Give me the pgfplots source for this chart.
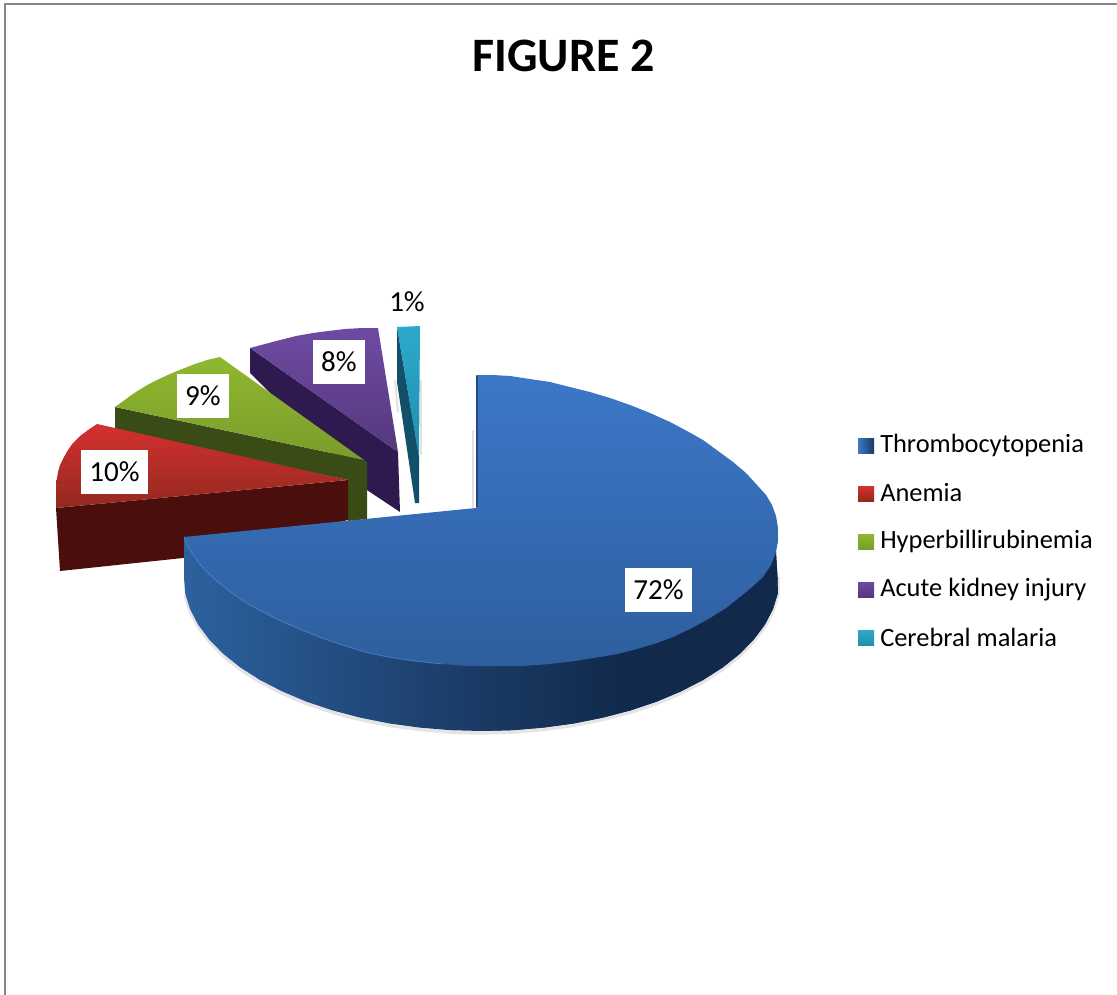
\documentclass[border=0pt]{standalone}
\usepackage{fontspec}
\setmainfont{Carlito}
\usepackage{pgfplots}
\pgfplotsset{compat=1.18}

% Shades of the five slices: top face (light, dark) and side wall
\definecolor{blueA}{HTML}{3C78C8}
\definecolor{blueB}{HTML}{2E5E9E}
\definecolor{blueL}{HTML}{2C619F}
\definecolor{blueM}{HTML}{1A3A64}
\definecolor{blueR}{HTML}{11294A}
\definecolor{blueRim}{HTML}{4D83C4}
\definecolor{redA}{HTML}{D4302F}
\definecolor{redB}{HTML}{93291F}
\definecolor{redS}{HTML}{4A0E0C}
\definecolor{greenA}{HTML}{8FB82E}
\definecolor{greenB}{HTML}{7A9C2C}
\definecolor{greenS}{HTML}{394C16}
\definecolor{purpleA}{HTML}{6E4BA3}
\definecolor{purpleB}{HTML}{55387C}
\definecolor{purpleS}{HTML}{2E1A4E}
\definecolor{cyanA}{HTML}{2DA9CB}
\definecolor{cyanB}{HTML}{1F8FAF}
\definecolor{cyanS}{HTML}{124F68}
\definecolor{frameC}{HTML}{868686}

\newcommand{\labelfont}{\fontsize{19.8}{24}\selectfont}
\newcommand{\valuefont}{\fontsize{21.8}{26}\selectfont}

\begin{document}
\begin{tikzpicture}
\begin{axis}[
  scale only axis,
  width=837.75pt, height=746.25pt,
  xmin=0, xmax=1117, ymin=0, ymax=995,
  y dir=reverse,
  axis lines=none,
  clip=true,
]
% Outer frame of the chart area
\addplot[draw=frameC, line width=2pt] coordinates {(5,995) (5,4) (1117,4)};

% Cerebral malaria
\addplot[draw=black!25, line width=1.5pt, opacity=.45] coordinates {(395,380) (398,412)};
\addplot[draw=black!25, line width=1.5pt, opacity=.45] coordinates {(421,380) (421,455)};
\addplot[draw=none, fill=cyanS] coordinates {(397,327) (419,456) (419,503) (415,503) (397,382)} -- cycle;
\addplot[draw=none, top color=cyanA, bottom color=cyanB] coordinates {(397,327) (420,326) (419,458)} -- cycle;

% Acute kidney injury
\addplot[draw=none, fill=purpleS] coordinates {(250,348) (398,452) (400,512) (367,490) (250,373)} -- cycle;
\addplot[draw=none, top color=purpleA, bottom color=purpleB] coordinates {(378,328) (362,328) (345,329) (328,331) (313,333) (296,336) (280,340) (265,344) (250,348) (398,452)} -- cycle;

% Hyperbillirubinemia
\addplot[draw=none, fill=greenS] coordinates {(115,407) (364,460) (367,462) (367,519) (348,521) (348,480) (115,431)} -- cycle;
\addplot[draw=none, top color=greenA, bottom color=greenB] coordinates {(364,460) (220,357) (207,360) (195,364) (182,369) (170,374) (159,379) (149,384) (139,390) (130,396) (122,402) (115,407)} -- cycle;

% Anemia
\addplot[draw=none, fill=redS] coordinates {(56,508) (348,480) (348,520) (183,558) (60,571)} -- cycle;
\addplot[draw=none, top color=redA, bottom color=redB] coordinates {(348,480) (97,424) (88,430) (80,436) (73,443) (68,450) (64,457) (60,465) (58,472) (56.5,481) (56,490) (56,499) (56,508)} -- cycle;

% Thrombocytopenia: soft shadow, side wall in three stretches, top face
\addplot[draw=black!30, line width=2.5pt, opacity=.35] coordinates {
  (185.1,595.1) (190.0,611.0) (198.1,626.6) (209.3,641.6) (223.4,656) (240.4,669.5) (260.0,682.0) (282.1,693.4)
  (306.3,703.6) (332.5,712.4) (360.3,719.7) (389.4,725.5) (419.5,729.6) (450.4,732.2) (481.5,733)
  (512.6,732.2) (543.5,729.6) (573.6,725.5) (602.7,719.7) (630.5,712.4) (656.7,703.6) (680.9,693.4)
  (703,682) (722.6,669.5) (739.6,656) (753.7,641.6) (764.9,626.6) (773,611) (777.9,595.1) (778.5,577)};
\addplot[draw=black!30, line width=1.2pt, opacity=.4] coordinates {(473,430) (473,508)};
\addplot[draw=none, left color=blueL, right color=blueM, middle color=blueM] coordinates {
  (184,537) (184,577) (185.1,593.1) (190.0,609.0) (198.1,624.6) (209.3,639.6) (223.4,654) (240.4,667.5) (260.0,680.0) (282.1,691.4)
  (306.3,701.6) (332.5,710.4) (360.3,717.7) (389.4,723.5) (419.5,727.6) (450.4,730.2) (481.5,731)
  (512.6,730.2) (543.5,727.6) (573.6,723.5) (602.7,717.7) (630.5,710.4) (656.7,701.6) (680.9,691.4)
  (703,680) (722.6,667.5) (739.6,654) (753.7,639.6) (764.9,624.6) (773,609) (777.9,593.1) (777.5,577) (776,552)} -- cycle;
\addplot[draw=none, left color=blueM, right color=blueR] coordinates {
  (481.5,600) (481.5,731) (512.6,730.2) (543.5,727.6) (573.6,723.5) (602.7,717.7) (630.5,710.4) (630.5,600)} -- cycle;
\addplot[draw=none, fill=blueR] coordinates {
  (630,600) (630,710.5) (656.7,701.6) (680.9,691.4) (703,680) (722.6,667.5) (739.6,654) (753.7,639.6)
  (764.9,624.6) (773,609) (777.9,593.1) (777.5,577) (776,552)} -- cycle;
\addplot[draw=none, top color=blueA, bottom color=blueB] coordinates {
  (476,508) (476,375) (493,375) (510,376) (530,379) (550,382) (570,387) (590,392) (610,398) (630,405)
  (650,413) (670,422) (687,431) (703,440) (718,451) (733,462) (746,473) (757,485) (766,495) (772,505)
  (776,516) (778,528) (778,541) (776,552) (771,565) (763,577) (752,587) (740,597) (726,608) (710,618)
  (692,628) (673,637) (654,644) (633,650) (617,654) (600,657) (575,661) (550,664) (522,666) (495,666)
  (468,666) (442,664) (415,661) (388,657) (365,652) (342,645) (322,638) (302,630) (283,622) (265,613)
  (248,604) (232,593) (218,582) (205,570) (198,562) (192,553) (187,545) (184,537)} -- cycle;
\addplot[draw=blueRim, line width=.7pt, opacity=.8] coordinates {
  (184,537) (187,545) (192,553) (198,562) (205,570) (218,582) (232,593) (248,604) (265,613) (283,622)
  (302,630) (322,638) (342,645) (365,652) (388,657) (415,661) (442,664)};
\addplot[draw=blueM, line width=.8pt, opacity=.7] coordinates {(477,376) (477,507)};

% Value labels
\node[fill=white, inner sep=0pt, minimum width=50.25pt, minimum height=33pt, font=\valuefont] at (axis cs:658.5,590) {72\%};
\node[fill=white, inner sep=0pt, minimum width=50.25pt, minimum height=32.5pt, font=\valuefont] at (axis cs:114.5,472) {10\%};
\node[fill=white, inner sep=0pt, minimum width=39pt, minimum height=33pt, font=\valuefont] at (axis cs:203,396) {9\%};
\node[fill=white, inner sep=0pt, minimum width=39pt, minimum height=33pt, font=\valuefont] at (axis cs:339,362) {8\%};
\node[inner sep=0pt, font=\valuefont] at (axis cs:407,302) {1\%};

% Title
\node[font=\fontsize{36}{42}\selectfont\bfseries] at (axis cs:563.5,56) {FIGURE 2};

% Legend keys
\addplot[draw=none, left color=blueA, right color=blueM] coordinates {(858,438) (874,438) (874,453) (858,453)} -- cycle;
\addplot[draw=none, top color=redA, bottom color=redB] coordinates {(858,486) (874,486) (874,501) (858,501)} -- cycle;
\addplot[draw=none, top color=greenA, bottom color=greenB] coordinates {(858,534) (874,534) (874,549) (858,549)} -- cycle;
\addplot[draw=none, top color=purpleA, bottom color=purpleB] coordinates {(858,582) (874,582) (874,597) (858,597)} -- cycle;
\addplot[draw=none, top color=cyanA, bottom color=cyanB] coordinates {(858,630) (874,630) (874,645) (858,645)} -- cycle;

% Legend entries
\node[anchor=west, inner sep=0pt, font=\labelfont] at (axis cs:880,445) {Thrombocytopenia};
\node[anchor=west, inner sep=0pt, font=\labelfont] at (axis cs:880,493) {Anemia};
\node[anchor=west, inner sep=0pt, font=\labelfont] at (axis cs:880,541) {Hyperbillirubinemia};
\node[anchor=west, inner sep=0pt, font=\labelfont] at (axis cs:880,590) {Acute kidney injury};
\node[anchor=west, inner sep=0pt, font=\labelfont] at (axis cs:880,637) {Cerebral malaria};
\end{axis}
\pgfresetboundingbox
\useasboundingbox (0,0) rectangle (837.75pt,746.25pt);
\end{tikzpicture}
\end{document}
